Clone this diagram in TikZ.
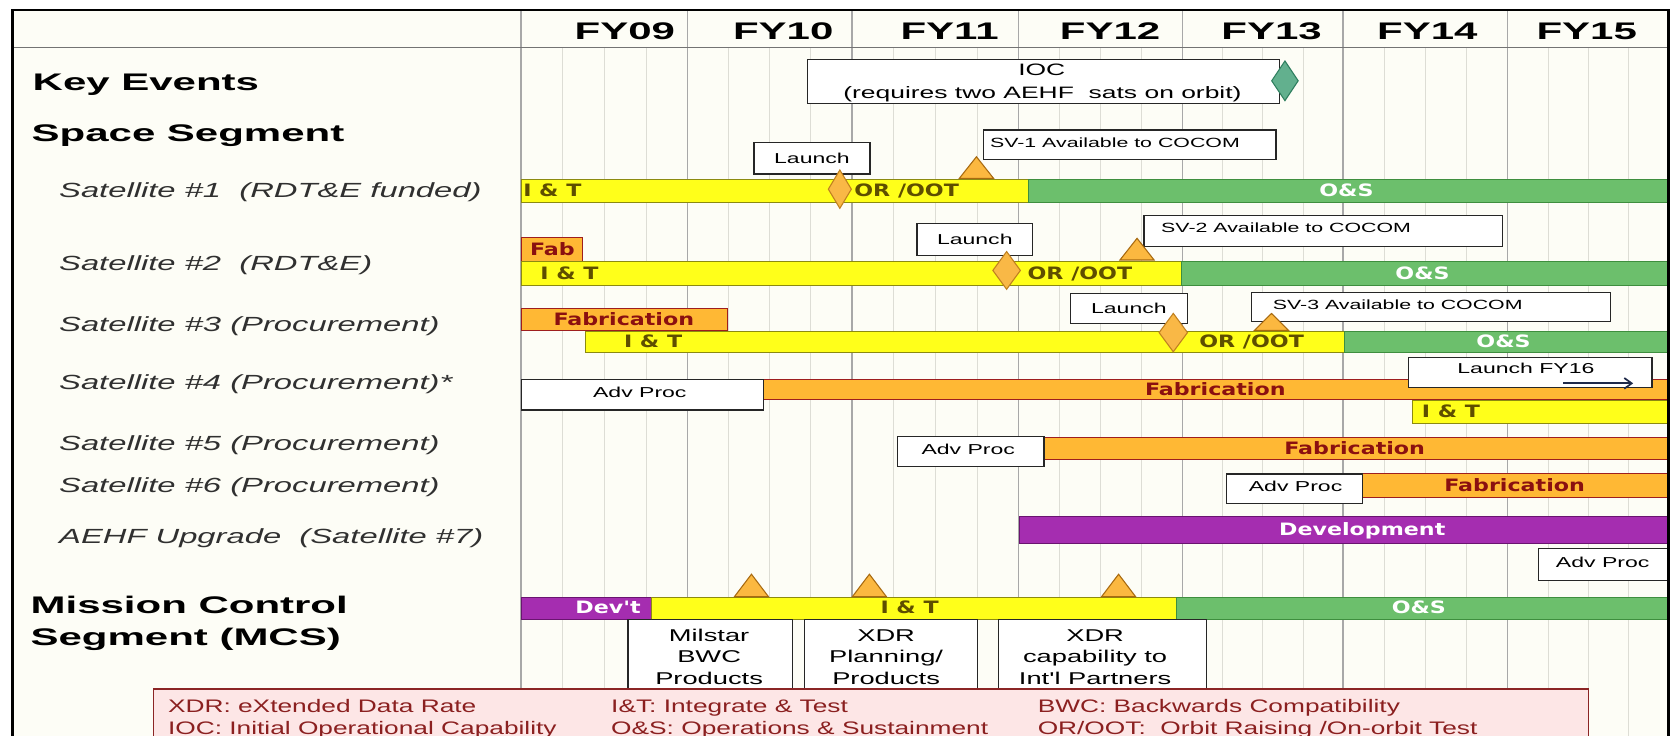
\documentclass[tikz,border=0pt]{standalone}
\usepackage{fontspec}
\usetikzlibrary{arrows.meta}
\setmainfont{Liberation Sans}
\newfontfamily\secfam[FakeStretch=1.75]{Liberation Sans}
\newfontfamily\rowfam[FakeStretch=1.6]{Liberation Sans}
\newfontfamily\boxfam[FakeStretch=1.6]{Liberation Sans}
\newfontfamily\barfam[FakeStretch=1.3]{DejaVu Sans}
\newfontfamily\keyfam[FakeStretch=1.45]{Liberation Sans}

\definecolor{paper}{HTML}{FDFDF6}
\definecolor{gridmaj}{HTML}{A8A8A8}
\definecolor{gridmin}{HTML}{DDDDD5}
\definecolor{yelFill}{HTML}{FFFF1A}
\definecolor{yelEdge}{HTML}{8C8A10}
\definecolor{grnFill}{HTML}{6CBF6C}
\definecolor{grnEdge}{HTML}{3E8E3E}
\definecolor{orgFill}{HTML}{FFB834}
\definecolor{orgEdge}{HTML}{9E1E1E}
\definecolor{purFill}{HTML}{A52DB0}
\definecolor{purEdge}{HTML}{6A1470}
\definecolor{dmdFill}{HTML}{F9B846}
\definecolor{dmdEdge}{HTML}{C08020}
\definecolor{triFill}{HTML}{FBB840}
\definecolor{triEdge}{HTML}{A86A10}
\definecolor{iocFill}{HTML}{62B08E}
\definecolor{iocEdge}{HTML}{2F7F5F}
\definecolor{txtOlive}{HTML}{5E4E00}
\definecolor{txtRed}{HTML}{8A1010}
\definecolor{keyFill}{HTML}{FDE6E6}
\definecolor{keyEdge}{HTML}{8B2525}
\definecolor{keyText}{HTML}{8B2020}
\definecolor{rowGray}{HTML}{303030}
\definecolor{arrowNavy}{HTML}{1F2A4A}

% a filled/outlined rectangle node given by its corners
\newcommand\ganttbox[6]{\node[#2, anchor=north west, minimum width={(#5)-(#3)}, minimum height={(#6)-(#4)}] (#1) at (#3,#4) {};}
% diamond milestone: style, centre x, centre y, half width, half height
\newcommand\diamondmark[5]{\path[#1] (#2,#3-#5) -- (#2+#4,#3) -- (#2,#3+#5) -- (#2-#4,#3) -- cycle;}
% triangle milestone: centre x, apex y, base y
\newcommand\milestone[3]{\path[trimark] (#1-16,#3) -- (#1,#2) -- (#1+16,#3) -- cycle;}

\begin{document}
\begin{tikzpicture}[x=1pt, y=-1pt,
  yelbar/.style={fill=yelFill, draw=yelEdge, line width=1pt},
  grnbar/.style={fill=grnFill, draw=grnEdge, line width=1pt},
  orgbar/.style={fill=orgFill, draw=orgEdge, line width=1pt},
  purbar/.style={fill=purFill, draw=purEdge, line width=1pt},
  wbox/.style={fill=white, draw=black!85, line width=1.1pt},
  pinkbox/.style={fill=keyFill, draw=keyEdge, line width=1.4pt},
  sectxt/.style={anchor=west, inner sep=0pt, text height=16.1pt, text depth=0pt, font=\secfam\bfseries\fontsize{22.5}{24}\selectfont},
  yrtxt/.style={inner sep=0pt, text height=16.1pt, text depth=0pt, font=\secfam\bfseries\fontsize{22.5}{24}\selectfont},
  rowtxt/.style={anchor=west, inner sep=0pt, text height=13.75pt, text depth=0pt, text=rowGray, font=\rowfam\itshape\fontsize{19.2}{21}\selectfont},
  bartxt/.style={inner sep=0pt, text height=11.66pt, text depth=0pt, font=\barfam\bfseries\fontsize{16}{18}\selectfont},
  onyel/.style={bartxt, text=txtOlive},
  onorg/.style={bartxt, text=txtRed},
  onlight/.style={bartxt, text=white},
  boxtxt/.style={inner sep=0pt, text height=9.67pt, text depth=0pt, font=\boxfam\fontsize{13.5}{15}\selectfont},
  evtxt/.style={anchor=west, inner sep=0pt, text height=8.95pt, text depth=0pt, font=\boxfam\fontsize{12.5}{14}\selectfont},
  prodtxt/.style={inner sep=0pt, text height=11.46pt, text depth=0pt, font=\boxfam\fontsize{16}{18}\selectfont},
  ioctxt/.style={inner sep=0pt, text height=11.1pt, text depth=0pt, font=\boxfam\fontsize{15.5}{17}\selectfont},
  keytxt/.style={anchor=west, inner sep=0pt, text height=12.17pt, text depth=0pt, text=keyText, font=\keyfam\fontsize{17}{19}\selectfont},
  dmd/.style={fill=dmdFill, draw=dmdEdge, line width=1pt},
  iocdmd/.style={fill=iocFill, draw=iocEdge, line width=1pt},
  trimark/.style={fill=triFill, draw=triEdge, line width=1pt},
]
\useasboundingbox (0,0) rectangle (1568,690);
\clip (0,0) rectangle (1568,690);
\fill[white] (0,0) rectangle (1568,690);
\fill[paper] (11.7,9.4) rectangle (1565,700);

% quarter grid
\foreach \a/\b in {488.6/644.8,644.8/799,799/955.3,955.3/1109.2,1109.2/1259.5,1259.5/1414,1414/1565}{
  \foreach \q in {1,2,3}{
    \draw[gridmin, line width=0.8pt] ({\a+\q*(\b-\a)/4},44.7) -- ({\a+\q*(\b-\a)/4},700);
  }
}
% fiscal-year grid
\foreach \x in {488.6,644.8,799,955.3,1109.2,1259.5,1414}{
  \draw[gridmaj, line width=1.2pt] (\x,9.4) -- (\x,700);
}
\draw[black!55, line width=1.2pt] (11.7,44.7) -- (1565,44.7);

% fiscal-year header
\node[yrtxt] (fy09) at (586,28.9) {FY09};
\node[yrtxt] (fy10) at (734.5,28.9) {FY10};
\node[yrtxt] (fy11) at (890.5,28.9) {FY11};
\node[yrtxt] (fy12) at (1041,28.9) {FY12};
\node[yrtxt] (fy13) at (1192.5,28.9) {FY13};
\node[yrtxt] (fy14) at (1338.5,28.9) {FY14};
\node[yrtxt] (fy15) at (1488,28.9) {FY15};

% row titles
\node[sectxt] (hkey) at (30.5,77) {Key Events};
\node[sectxt] (hspace) at (29.5,125) {Space Segment};
\node[rowtxt] (r1) at (55.3,178) {Satellite \#1~~(RDT\&E funded)};
\node[rowtxt] (r2) at (55.3,247) {Satellite \#2~~(RDT\&E)};
\node[rowtxt] (r3) at (55.3,304) {Satellite \#3 (Procurement)};
\node[rowtxt] (r4) at (55.3,358) {Satellite \#4 (Procurement)*};
\node[rowtxt] (r5) at (55.3,415.6) {Satellite \#5 (Procurement)};
\node[rowtxt] (r6) at (55.3,455) {Satellite \#6 (Procurement)};
\node[rowtxt] (r7) at (55.3,502.5) {AEHF Upgrade~~(Satellite \#7)};
\node[sectxt] (hmcs1) at (28.5,567.4) {Mission Control};
\node[sectxt] (hmcs2) at (28.5,597.7) {Segment (MCS)};

% schedule bars
\ganttbox{s1y}{yelbar}{488.6}{167.9}{964}{189.8}
\ganttbox{s1g}{grnbar}{964}{167.9}{1565}{189.8}
\ganttbox{s2f}{orgbar}{488.6}{222.6}{545.8}{244.8}
\ganttbox{s2y}{yelbar}{488.6}{244.8}{1107.8}{267.3}
\ganttbox{s2g}{grnbar}{1107.8}{244.8}{1565}{267.3}
\ganttbox{s3f}{orgbar}{488.6}{289.2}{681.8}{309.5}
\ganttbox{s3y}{yelbar}{548.6}{310.4}{1260.7}{329.8}
\ganttbox{s3g}{grnbar}{1260.7}{310.4}{1565}{329.8}
\ganttbox{s4f}{orgbar}{715.6}{355.4}{1565}{374.5}
\ganttbox{s4y}{yelbar}{1323.8}{375.1}{1565}{396.4}
\ganttbox{s5f}{orgbar}{978.5}{410.1}{1565}{430.5}
\ganttbox{s6f}{orgbar}{1277.3}{443.9}{1565}{465.8}
\ganttbox{s7d}{purbar}{956}{484}{1565}{509.5}
\ganttbox{mcd}{purbar}{488.6}{559.6}{610.7}{580.3}
\ganttbox{mcy}{yelbar}{610.7}{559.6}{1103.2}{580.3}
\ganttbox{mcg}{grnbar}{1103.2}{559.6}{1565}{580.3}

% event and note boxes
\ganttbox{ioc}{wbox}{757}{55.3}{1199.5}{96.3}
\ganttbox{sv1}{wbox}{922}{121.3}{1196}{149.4}
\ganttbox{l1}{wbox}{706.5}{132.9}{815.3}{162.6}
\ganttbox{l2}{wbox}{859.4}{209.4}{967.8}{239.2}
\ganttbox{sv2}{wbox}{1072.3}{201.6}{1408.3}{230.4}
\ganttbox{l3}{wbox}{1003.5}{274.5}{1112.7}{302.6}
\ganttbox{sv3}{wbox}{1173.2}{273.5}{1509.7}{300.7}
\ganttbox{ap4}{wbox}{488.6}{355.4}{715.6}{383.9}
\ganttbox{l16}{wbox}{1320.3}{334.5}{1548.6}{362.6}
\ganttbox{ap5}{wbox}{841.2}{408.6}{978.5}{437}
\ganttbox{ap6}{wbox}{1149.8}{443.9}{1277.3}{472}
\ganttbox{ap7}{wbox}{1442.4}{513.6}{1565}{543.9}
\ganttbox{mb1}{wbox}{588.4}{580.3}{742.4}{655}
\ganttbox{mb2}{wbox}{754.2}{580.3}{915.8}{655}
\ganttbox{mb3}{wbox}{935.5}{580.3}{1130.7}{655}

% milestones
\diamondmark{iocdmd}{1205}{75.8}{12.4}{18.6}
\milestone{915.7}{147}{167.2}
\milestone{1066.3}{223.5}{243.8}
\milestone{1192.4}{294}{309.8}
\milestone{704.7}{538.5}{559.6}
\milestone{815.3}{538.5}{559.6}
\milestone{1049}{538.5}{559.6}
\diamondmark{dmd}{787.6}{177.4}{10.8}{18}
\diamondmark{dmd}{944}{253.6}{12.9}{17.7}
\diamondmark{dmd}{1100.3}{311.9}{13.3}{18}

% bar labels
\node[onyel, anchor=west] (s1yt) at (490.5,178.85) {I \& T};
\node[onyel, anchor=west] (s1ot) at (801,178.85) {OR /OOT};
\node[onlight] (s1gt) at (1262.7,178.85) {O\&S};
\node[onorg] (s2ft) at (518,233.7) {Fab};
\node[onyel, anchor=west] (s2yt) at (506.5,256) {I \& T};
\node[onyel, anchor=west] (s2ot) at (963.5,256) {OR /OOT};
\node[onlight] (s2gt) at (1334,256) {O\&S};
\node[onorg] (s3ft) at (585,299.35) {Fabrication};
\node[onyel, anchor=west] (s3yt) at (585,320.1) {I \& T};
\node[onyel, anchor=west] (s3ot) at (1124.5,320.1) {OR /OOT};
\node[onlight] (s3gt) at (1410,320.1) {O\&S};
\node[onorg] (s4ft) at (1139.7,365) {Fabrication};
\node[onyel, anchor=west] (s4yt) at (1333.3,385.75) {I \& T};
\node[onorg] (s5ft) at (1270.4,420.3) {Fabrication};
\node[onorg] (s6ft) at (1420.4,454.85) {Fabrication};
\node[onlight] (s7dt) at (1277.5,496.75) {Development};
\node[onlight, anchor=east] (mcdt) at (601,569.95) {Dev't};
\node[onyel] (mcyt) at (853,569.95) {I \& T};
\node[onlight] (mcgt) at (1330.6,569.95) {O\&S};

% box texts
\node[ioctxt] (ioct1) at (977,65.6) {IOC};
\node[ioctxt] (ioct2) at (977.6,86.5) {(requires two AEHF~ sats on orbit)};
\node[evtxt] (sv1t) at (928.3,133.5) {SV-1 Available to COCOM};
\node[evtxt] (sv2t) at (1088.8,214) {SV-2 Available to COCOM};
\node[evtxt] (sv3t) at (1193.5,285.7) {SV-3 Available to COCOM};
\node[boxtxt] (l1t) at (l1.center) {Launch};
\node[boxtxt] (l2t) at (l2.center) {Launch};
\node[boxtxt] (l3t) at (l3.center) {Launch};
\node[boxtxt] (l16t) at (1431,345.8) {Launch FY16};
\coordinate (fyarrA) at (1466,359.5);
\coordinate (fyarrB) at (1531.6,359.5);
\draw[arrowNavy, line width=1.8pt, -{Straight Barb[length=7pt,width=10pt,line width=1.6pt]}] (fyarrA) -- (fyarrB);
\node[boxtxt] (ap4t) at (600,368) {Adv Proc};
\node[boxtxt] (ap5t) at (908,421.2) {Adv Proc};
\node[boxtxt] (ap6t) at (1215,456.4) {Adv Proc};
\node[boxtxt] (ap7t) at (1503,527) {Adv Proc};
\node[prodtxt] (mb1a) at (665,595.5) {Milstar};
\node[prodtxt] (mb1b) at (665,615.8) {BWC};
\node[prodtxt] (mb1c) at (665,636.1) {Products};
\node[prodtxt] (mb2a) at (831,595.5) {XDR};
\node[prodtxt] (mb2b) at (831,615.8) {Planning/};
\node[prodtxt] (mb2c) at (831,636.1) {Products};
\node[prodtxt] (mb3a) at (1027,595.5) {XDR};
\node[prodtxt] (mb3b) at (1027,615.8) {capability to};
\node[prodtxt] (mb3c) at (1027,636.1) {Int'l Partners};

% abbreviation key
\ganttbox{key}{pinkbox}{143.3}{645.5}{1489.2}{705}
\node[keytxt] (k1) at (157.4,662.2) {XDR: eXtended Data Rate};
\node[keytxt] (k2) at (157.4,682.7) {IOC: Initial Operational Capability};
\node[keytxt] (k3) at (573,662.2) {I\&T: Integrate \& Test};
\node[keytxt] (k4) at (573,682.7) {O\&S: Operations \& Sustainment};
\node[keytxt] (k5) at (973,662.2) {BWC: Backwards Compatibility};
\node[keytxt] (k6) at (973,682.7) {OR/OOT:~ Orbit Raising /On-orbit Test};

% outer frame
\draw[black, line width=2.6pt] (11.7,700) -- (11.7,9.4) -- (1565,9.4) -- (1565,700);
\end{tikzpicture}
\end{document}
